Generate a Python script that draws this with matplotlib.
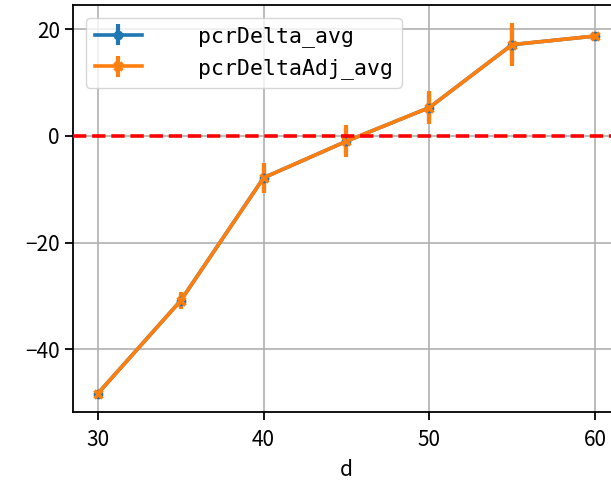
import matplotlib
matplotlib.use("Agg")
import matplotlib.pyplot as plt
import numpy as np

plt.rcParams['font.family'] = ['Noto Sans CJK SC', 'DejaVu Sans']

d = [30, 35, 40, 45, 50, 55, 60]
pcr_delta = [-48.25, -30.85, -7.85, -1.0, 5.3, 17.1, 18.7]
pcr_delta_err = [0.05, 1.2, 2.4, 2.5, 2.6, 3.2, 0.4]
pcr_delta_adj = [-48.25, -30.85, -7.85, -1.0, 5.3, 17.1, 18.7]
pcr_delta_adj_err = [0.05, 1.65, 2.86, 2.96, 3.1, 4.0, 0.5]
xticks = [30, 40, 50, 60]
yticks = [-40, -20, 0, 20]

fig = plt.figure(figsize=(6.11, 4.82), dpi=100)
ax = fig.add_axes([0.1195, 0.1446, 0.895, 0.8456])

ax.errorbar(d, pcr_delta, yerr=pcr_delta_err, color='tab:blue', lw=2.6,
            marker='o', ms=6, elinewidth=3, label='   pcrDelta_avg')
ax.errorbar(d, pcr_delta_adj, yerr=pcr_delta_adj_err, color='tab:orange',
            lw=2.6, marker='x', ms=6, mew=2.5, elinewidth=3,
            label='   pcrDeltaAdj_avg')
ax.axhline(0, color='red', ls='--', lw=2.6, zorder=3)

ax.set_xticks(xticks)
ax.set_yticks(yticks)
ax.grid(True, color='#b0b0b0', lw=1.2)
ax.set_axisbelow(True)
ax.set_xlabel('d', fontsize=15, labelpad=6)
ax.tick_params(labelsize=15, width=1.3, length=6)
ax.tick_params(axis='x', pad=6)
for s in ax.spines.values():
    s.set_linewidth(1.3)

leg = ax.legend(loc='upper left', prop={'family': 'DejaVu Sans Mono', 'size': 15.5},
                handlelength=2.2, borderaxespad=0.6)

fig.savefig('out.png', dpi=100)
